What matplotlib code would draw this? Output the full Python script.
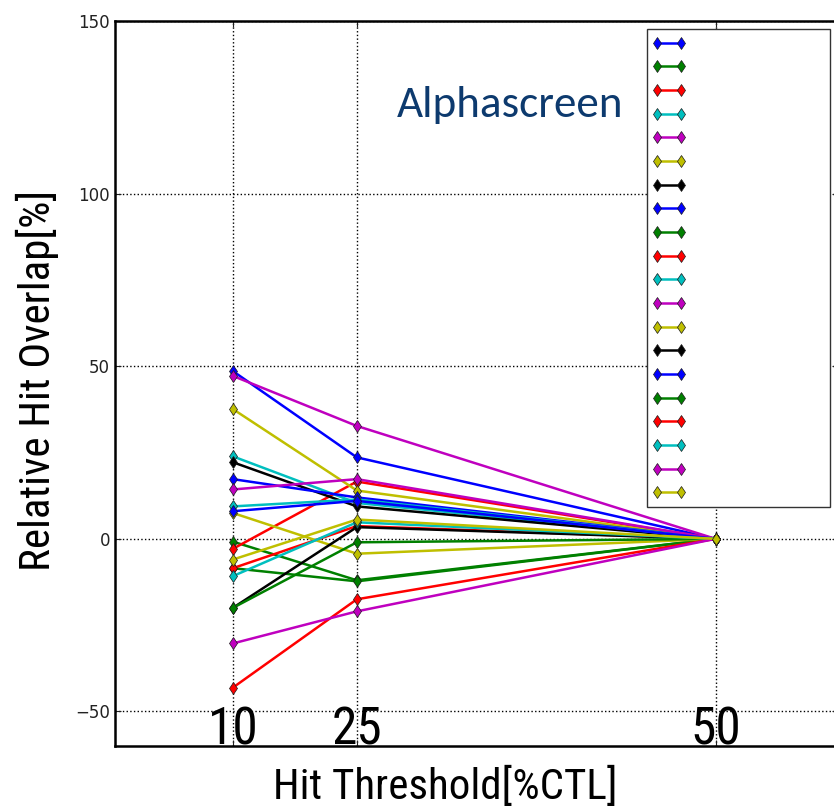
import numpy as np
import matplotlib
matplotlib.use("Agg")
import matplotlib.pyplot as plt
import matplotlib.transforms as mtransforms
import logging
logging.getLogger('matplotlib.font_manager').setLevel(logging.ERROR)

# hit thresholds (%CTL) and relative hit overlap (%) for each series
thresholds = [10, 25, 50]
at_10 = [48.6, -0.8, -2.9, 23.9, 47.2, 37.6, 22.2,
         17.3, -8.5, -8.5, 9.4, 14.3, 7.5, -20.0,
         8.0, -20.0, -43.1, -10.8, -30.3, -6.0]
at_25 = [23.6, -12.0, 16.6, 10.4, 32.7, 14.0, 9.4,
         12.0, -12.3, 3.7, 11.4, 17.3, -4.3, 3.4,
         11.0, -1.0, -17.5, 4.8, -21.0, 5.6]
at_50 = [0.0] * 20
colors = ['b', 'g', 'r', 'c', 'm', 'y', 'k']
tick_labels = ['10', '25', '50']

cycle = {'b': (0, 0, 1), 'g': (0, 0.5, 0), 'r': (1, 0, 0), 'c': (0, 0.75, 0.75),
         'm': (0.75, 0, 0.75), 'y': (0.75, 0.75, 0), 'k': (0, 0, 0)}

narrow = ['Roboto Condensed', 'Archivo Narrow', 'PT Sans Narrow', 'Liberation Sans Narrow', 'DejaVu Sans']
title_font = ['Carlito', 'Lato', 'DejaVu Sans']

fig = plt.figure(figsize=(8.34, 8.07), dpi=100)
fig.patch.set_facecolor('white')
ax = fig.add_axes([115/834, 61/807, 723/834, 725/807])

# uneven spacing of the thresholds -> power scale
p = 1.72
fwd = lambda x: np.sign(x) * np.abs(x) ** p
inv = lambda x: np.sign(x) * np.abs(x) ** (1.0 / p)
ax.set_xscale('function', functions=(fwd, inv))

handles = []
for i in range(len(at_10)):
	c = cycle[colors[i % len(colors)]]
	ln, = ax.plot(thresholds, [at_10[i], at_25[i], at_50[i]], color=c, lw=1.8,
		marker='d', ms=6.5, mec=(0.1, 0.1, 0.1), mew=0.5)
	handles.append(ln)

ax.set_xlim(-17.6, 56.6)
ax.set_ylim(-60, 150)
ax.set_xticks(thresholds)
ax.set_xticklabels([''] * 3)
ax.set_yticks(np.arange(-50, 151, 50))
ax.set_yticklabels(['\u221250', '0', '50', '100', '150'])
ax.minorticks_off()
ax.tick_params(direction='in', length=4, top=True, right=True, labelsize=12, colors='#222222')
ax.grid(True, color='k', ls=':', lw=1.0)
for s in ax.spines.values():
	s.set_linewidth(1.8)

# big threshold labels drawn just above the bottom axis
trans = mtransforms.blended_transform_factory(ax.transData, ax.transAxes)
for x, t in zip(thresholds, tick_labels):
	ax.text(x, 0.002, t, transform=trans, ha='center', va='baseline',
		fontsize=37, family=narrow, color='black')

leg = ax.legend(handles, ['\u2002' * 15] * len(handles), loc='upper right', numpoints=2,
	fontsize=12, handlelength=2.0, labelspacing=0.34, borderaxespad=0.5,
	fancybox=False, framealpha=1, borderpad=0.3)
leg.get_frame().set_edgecolor('#333333')
leg.get_frame().set_linewidth(1.0)

ax.text(510/834, 1 - 105/807, 'Alphascreen', transform=fig.transFigure, ha='center', va='center',
	fontsize=32.5, family=title_font, color='#0d3a6e')

fig.text(445/834, 1 - 787/807, 'Hit Threshold[%CTL]', ha='center', va='center',
	fontsize=31, family=narrow)
fig.text(37/834, 1 - 380/807, 'Relative Hit Overlap[%]', ha='center', va='center',
	rotation=90, fontsize=31, family=narrow)

fig.savefig('out.png', dpi=100, facecolor='white')
